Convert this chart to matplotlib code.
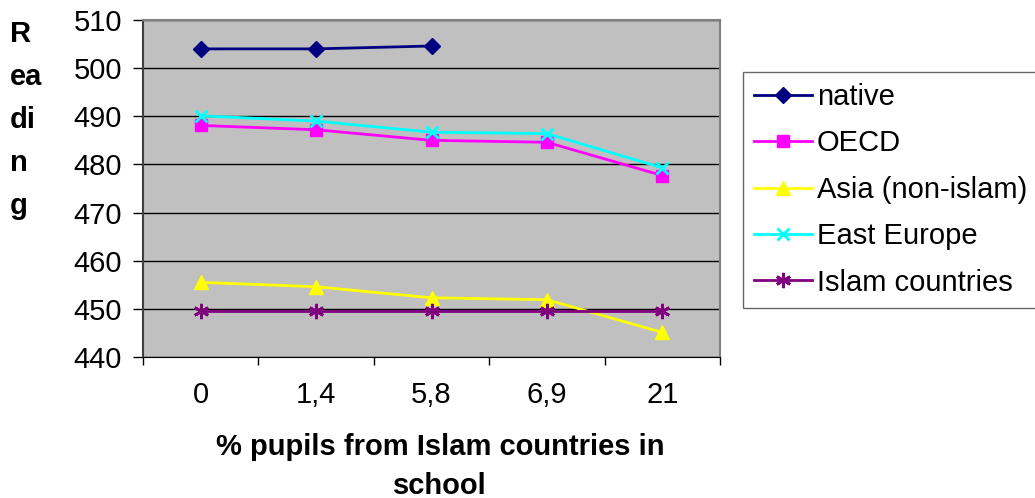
import matplotlib.pyplot as plt
import numpy as np

plt.rcParams['font.family'] = ['Liberation Sans', 'DejaVu Sans']

categories = ["0", "1,4", "5,8", "6,9", "21"]
native = [504.0, 504.0, 504.6]
oecd = [488.1, 487.2, 485.0, 484.6, 477.7]
asia = [455.5, 454.6, 452.3, 451.9, 445.1]
east_europe = [490.1, 489.0, 486.7, 486.4, 479.3]
islam = [449.5, 449.5, 449.5, 449.5, 449.5]

series = [
    ("native", native, "#000080", "D", 8),
    ("OECD", oecd, "#FF00FF", "s", 8.5),
    ("Asia (non-islam)", asia, "#FFFF00", "^", 10),
    ("East Europe", east_europe, "#00FFFF", "x", 9),
    ("Islam countries", islam, "#800080", (6, 2, 0), 11),
]

FS = 21

fig = plt.figure(figsize=(10.35, 4.98), dpi=100)
ax = fig.add_axes([143 / 1035, 1 - 357 / 498, 577 / 1035, 337 / 498])
ax.set_facecolor("#C0C0C0")

x = np.arange(len(categories))
for name, vals, col, mk, ms in series:
    ax.plot(x[:len(vals)], vals, color=col, marker=mk, markersize=ms,
            markeredgewidth=2 if mk in ("x", (6, 2, 0)) else 1,
            markeredgecolor=col, lw=2, label=name, zorder=3)

ax.set_xlim(-0.5, len(categories) - 0.5)
ax.set_ylim(440, 510)
ax.set_yticks(np.arange(440, 511, 10))
ax.yaxis.grid(True, color="black", lw=1)
ax.set_axisbelow(True)

ax.set_xticks(x)
ax.set_xticklabels(categories)
ax.set_xticks(np.arange(-0.5, len(categories), 1), minor=True)
ax.tick_params(axis="x", which="major", length=0, pad=17, labelsize=FS)
ax.tick_params(axis="x", which="minor", length=6, direction="out", width=1)
ax.tick_params(axis="y", length=7, width=1, pad=8, labelsize=FS)

for side in ("top", "right"):
    ax.spines[side].set_color("#808080")
    ax.spines[side].set_linewidth(1.5)
ax.spines["left"].set_color("#404040")
ax.spines["left"].set_linewidth(1.5)
ax.spines["bottom"].set_color("black")

fig.text(440 / 1035, 1 - 466 / 498, "% pupils from Islam countries in\nschool",
         ha="center", va="center", fontsize=FS, fontweight="bold", linespacing=1.5)
fig.text(10 / 1035, 1 - 120 / 498, "R\nea\ndi\nn\ng", ha="left", va="center",
         fontsize=FS, fontweight="bold", linespacing=1.69)

leg = ax.legend(loc="upper left", bbox_to_anchor=(743 / 1035, 1 - 72 / 498),
                bbox_transform=fig.transFigure, fontsize=FS, frameon=True,
                fancybox=False, handlelength=2.0, handletextpad=0.15,
                labelspacing=0.63, borderpad=0.38, borderaxespad=0)
leg.get_frame().set_edgecolor("#404040")
leg.get_frame().set_linewidth(1)

fig.savefig("out.png", dpi=100)
